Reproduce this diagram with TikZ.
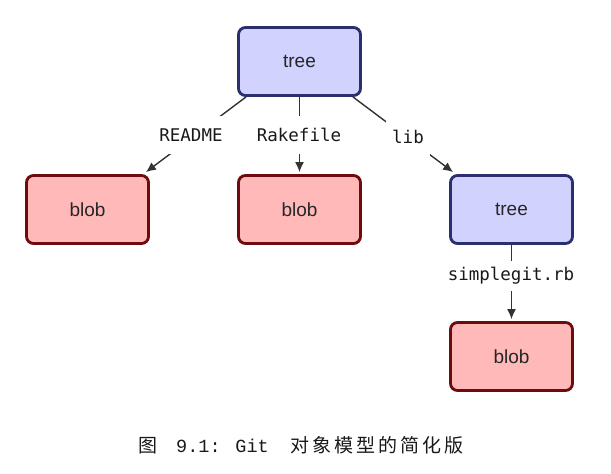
\documentclass[tikz,border=0pt]{standalone}
\usepackage{fontspec}
\setmainfont{Liberation Sans}
\newfontfamily\labfont{DejaVu Sans Mono}
\newfontfamily\capmono{Liberation Mono}
\newfontfamily\cjk{Noto Sans CJK SC}
\usetikzlibrary{arrows.meta}
\definecolor{treefill}{HTML}{D2D2FF}
\definecolor{treedraw}{HTML}{2C2F6E}
\definecolor{blobfill}{HTML}{FFB9B9}
\definecolor{blobdraw}{HTML}{6E0B0F}
\definecolor{linecol}{HTML}{333333}
\tikzset{
  objbox/.style={rounded corners=7pt, line width=2.8pt, minimum width=122pt, minimum height=68pt,
    font=\fontsize{19}{22}\selectfont, text=black!85},
  treebox/.style={objbox, fill=treefill, draw=treedraw},
  blobbox/.style={objbox, fill=blobfill, draw=blobdraw},
  conn/.style={draw=linecol, line width=1.4pt},
  arr/.style={conn, -{Latex[length=10pt,width=9pt]}},
  lab/.style={fill=white, inner xsep=6pt, minimum height=38pt, font=\labfont\fontsize{17.5}{20}\selectfont, text=black!90}
}
\newcommand{\cs}{\hspace{3pt}}
\begin{document}
\begin{tikzpicture}[x=1pt,y=-1pt]
\useasboundingbox (0,0) rectangle (611,474);
\node[treebox] (t) at (299.5,61.5) {tree};
\node[blobbox] (b1) at (87.5,209.5) {blob};
\node[blobbox] (b2) at (299.5,209.5) {blob};
\node[treebox] (t2) at (511.5,209.5) {tree};
\node[blobbox] (b4) at (511.5,356.5) {blob};
\draw[arr] ([xshift=9pt]t.south west) -- ([xshift=-4pt,yshift=2pt]b1.north east);
\draw[arr] (t.south) -- ([yshift=2pt]b2.north);
\draw[arr] ([xshift=-9pt]t.south east) -- ([xshift=4pt,yshift=2pt]t2.north west);
\draw[arr] (t2.south) -- ([yshift=2pt]b4.north);
\node[lab] (l1) at (191,135) {README};
\node[lab] (l2) at (299,135) {Rakefile};
\node[lab] (l3) at (408,137) {lib};
\node[lab, minimum height=30pt] (l4) at (511,276) {simplegit.rb};
\node[anchor=west, inner sep=0pt, font=\fontsize{19}{21}\selectfont, text=black!90] (cap) at (138,445)
  {{\cjk 图}\hspace{19pt}{\capmono\fontsize{18.5}{20}\selectfont 9.1: Git}\hspace{22pt}{\cjk 对\cs 象\cs 模\cs 型\cs 的\cs 简\cs 化\cs 版}};
\end{tikzpicture}
\end{document}
